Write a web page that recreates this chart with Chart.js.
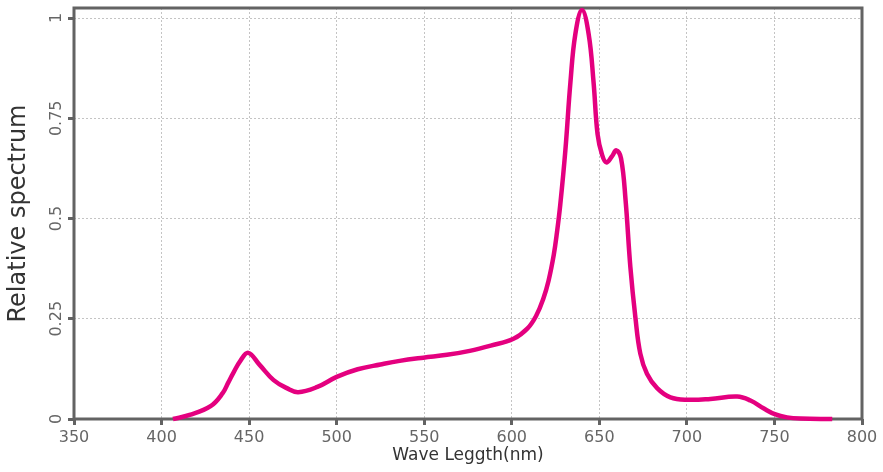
<!DOCTYPE html>
<html>
<head>
<meta charset="utf-8">
<script src="https://cdn.jsdelivr.net/npm/chart.js@4/dist/chart.umd.min.js"></script>
<style>
  html, body { margin: 0; padding: 0; background: #ffffff; }
  #wrap { width: 883px; height: 472px; position: relative; }
</style>
</head>
<body>
<div id="wrap"><canvas id="c"></canvas></div>
<script>
// Wavelength (nm) samples
const wavelengths = [406.5, 416, 428, 435, 438, 441, 445, 449.5, 456, 464, 471.5, 478, 489, 500, 512, 525, 536, 549.5, 563, 576, 588, 601, 609, 614, 618, 621, 624, 625.8, 627.7, 630.6, 633.5, 636.3, 640.1, 643.9, 646.7, 649, 651.5, 654, 657.2, 659.7, 662.4, 665, 667.7, 670.6, 673.4, 677.2, 683, 690.6, 700.7, 713.4, 728.7, 736.3, 744, 750.2, 757.2, 765, 783];
// Relative spectrum values at those wavelengths
const intensities = [0, 0.01, 0.032, 0.065, 0.09, 0.115, 0.145, 0.165, 0.135, 0.097, 0.077, 0.067, 0.08, 0.105, 0.124, 0.136, 0.145, 0.153, 0.16, 0.17, 0.183, 0.2, 0.226, 0.258, 0.30, 0.345, 0.41, 0.465, 0.535, 0.67, 0.84, 0.96, 1.02, 0.96, 0.84, 0.71, 0.66, 0.64, 0.655, 0.67, 0.65, 0.545, 0.38, 0.253, 0.163, 0.113, 0.077, 0.054, 0.048, 0.05, 0.056, 0.046, 0.026, 0.012, 0.004, 0.001, 0];
// Tick labels
const xTicks = [350, 400, 450, 500, 550, 600, 650, 700, 750, 800];
const yTicks = [0, 0.25, 0.5, 0.75, 1];
const xTitle = 'Wave Leggth(nm)';
const yTitle = 'Relative spectrum';

const points = wavelengths.map((w, i) => ({ x: w, y: intensities[i] }));

const FONT = '"DejaVu Sans", "Noto Sans", sans-serif';
const TICK_COLOR = '#666666';
const FRAME_COLOR = '#636363';

const framePlugin = {
  id: 'frame',
  beforeDatasetsDraw(chart) {
    const { ctx, chartArea: a } = chart;
    ctx.save();
    ctx.strokeStyle = FRAME_COLOR;
    ctx.lineWidth = 3;
    ctx.strokeRect(a.left, a.top, a.right - a.left, a.bottom - a.top);
    ctx.restore();
  },
  afterDraw(chart) {
    const { ctx } = chart;
    const y = chart.scales.y;
    ctx.save();
    ctx.fillStyle = TICK_COLOR;
    ctx.font = '16px ' + FONT;
    ctx.textAlign = 'center';
    ctx.textBaseline = 'middle';
    y.ticks.forEach((t) => {
      const py = y.getPixelForValue(t.value);
      ctx.save();
      ctx.translate(57, py);
      ctx.rotate(-Math.PI / 2);
      ctx.fillText(String(t.value), 0, 0);
      ctx.restore();
    });
    ctx.restore();
  }
};

new Chart(document.getElementById('c'), {
  type: 'line',
  data: {
    datasets: [{
      data: points,
      borderColor: '#e4007f',
      borderWidth: 4.5,
      pointRadius: 0,
      fill: false,
      tension: 0.4,
      clip: false
    }]
  },
  options: {
    responsive: true,
    maintainAspectRatio: false,
    animation: false,
    devicePixelRatio: 1,
    layout: { padding: { left: 0, right: 21, top: 8, bottom: 0 } },
    plugins: { legend: { display: false }, tooltip: { enabled: false } },
    scales: {
      x: {
        type: 'linear',
        min: 350,
        max: 800,
        afterBuildTicks: (s) => { s.ticks = xTicks.map(v => ({ value: v })); },
        afterFit: (s) => { s.height = 53; },
        ticks: {
          color: TICK_COLOR,
          font: { family: FONT, size: 16 },
          padding: 3,
          maxRotation: 0,
          autoSkip: false
        },
        grid: {
          color: (c) => (c.tick && (c.tick.value === 350 || c.tick.value === 800)) ? 'rgba(0,0,0,0)' : '#c4c4c4',
          lineWidth: 1,
          drawTicks: true,
          tickLength: 6,
          tickWidth: 3,
          tickColor: FRAME_COLOR
        },
        border: { display: false, dash: [2, 2] },
        title: {
          display: true,
          text: xTitle,
          color: '#333333',
          font: { family: FONT, size: 17 },
          padding: { top: 0, bottom: 6 }
        }
      },
      y: {
        type: 'linear',
        min: 0,
        max: 1.025,
        afterBuildTicks: (s) => { s.ticks = yTicks.map(v => ({ value: v })); },
        afterFit: (s) => { s.width = 74; },
        ticks: { display: false, includeBounds: false },
        grid: {
          color: (c) => (c.tick && c.tick.value === 0) ? 'rgba(0,0,0,0)' : '#c4c4c4',
          lineWidth: 1,
          drawTicks: true,
          tickLength: 6,
          tickWidth: 3,
          tickColor: FRAME_COLOR
        },
        border: { display: false, dash: [2, 2] },
        title: {
          display: true,
          text: yTitle,
          color: '#333333',
          font: { family: FONT, size: 24 },
          padding: { top: 4, bottom: 0 }
        }
      }
    }
  },
  plugins: [framePlugin]
});
</script>
</body>
</html>
